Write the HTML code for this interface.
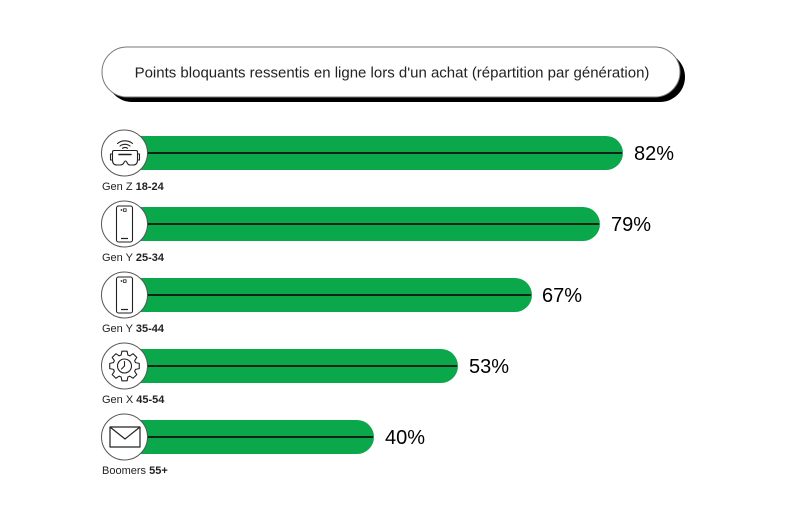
<!DOCTYPE html>
<html>
<head>
<meta charset="utf-8">
<style>
  html,body{margin:0;padding:0;background:#fff;}
  svg{display:block;}
  text{font-family:"Liberation Sans",Arial,sans-serif;}
</style>
</head>
<body>
<svg width="794" height="509" viewBox="0 0 794 509" xmlns="http://www.w3.org/2000/svg">
  <rect x="0" y="0" width="794" height="509" fill="#fff"/>

  <!-- Title pill -->
  <rect x="107" y="52" width="578" height="50" rx="25" ry="25" fill="#000"/>
  <rect x="102" y="47" width="578" height="50" rx="25" ry="25" fill="#fff" stroke="#777" stroke-width="1"/>
  <text x="392" y="77.5" font-size="15" fill="#222" text-anchor="middle">Points bloquants ressentis en ligne lors d'un achat (répartition par génération)</text>

  <!-- Row 1: 82% -->
  <path d="M124 136 H606 A17 17 0 0 1 606 170 H124 Z" fill="#0aa84a"/>
  <line x1="147" y1="153" x2="622" y2="153" stroke="#111" stroke-width="1.8"/>
  <text x="634" y="160" font-size="20" fill="#000">82%</text>

  <!-- Row 2: 79% -->
  <path d="M124 207 H583 A17 17 0 0 1 583 241 H124 Z" fill="#0aa84a"/>
  <line x1="147" y1="224" x2="599" y2="224" stroke="#111" stroke-width="1.8"/>
  <text x="611" y="231" font-size="20" fill="#000">79%</text>

  <!-- Row 3: 67% -->
  <path d="M124 278 H515 A17 17 0 0 1 515 312 H124 Z" fill="#0aa84a"/>
  <line x1="147" y1="295" x2="531" y2="295" stroke="#111" stroke-width="1.8"/>
  <text x="542" y="302" font-size="20" fill="#000">67%</text>

  <!-- Row 4: 53% -->
  <path d="M124 349 H441 A17 17 0 0 1 441 383 H124 Z" fill="#0aa84a"/>
  <line x1="147" y1="366" x2="457" y2="366" stroke="#111" stroke-width="1.8"/>
  <text x="469" y="373" font-size="20" fill="#000">53%</text>

  <!-- Row 5: 40% -->
  <path d="M124 420 H357 A17 17 0 0 1 357 454 H124 Z" fill="#0aa84a"/>
  <line x1="147" y1="437" x2="373" y2="437" stroke="#111" stroke-width="1.8"/>
  <text x="385" y="444" font-size="20" fill="#000">40%</text>

  <!-- Circles -->
  <g fill="#fff" stroke="#555" stroke-width="1">
    <circle cx="124.5" cy="153" r="23"/>
    <circle cx="124.5" cy="224" r="23"/>
    <circle cx="124.5" cy="295" r="23"/>
    <circle cx="124.5" cy="366" r="23"/>
    <circle cx="124.5" cy="437" r="23"/>
  </g>

  <!-- Icon 1: VR goggles with wifi -->
  <g fill="none" stroke="#222" stroke-width="1.1" stroke-linecap="round" stroke-linejoin="round">
    <path d="M117.5 143.5 A10 8 0 0 1 132.5 143.5"/>
    <path d="M120 146 A7 5.5 0 0 1 130 146"/>
    <path d="M122.5 148.3 A3.5 3 0 0 1 127.5 148.3"/>
    <path d="M114 150.5 H136 Q137.5 150.5 137.5 152 V160 Q137.5 165 133 165 H130 Q128 165 127 162.5 Q125.5 159.5 124 162.5 Q123 165 120 165 H117 Q112.5 165 112.5 160 V152 Q112.5 150.5 114 150.5 Z"/>
    <line x1="119" y1="154.5" x2="131" y2="154.5" stroke-width="1.6"/>
    <path d="M112.5 154 H110.5 V160 H112.5"/>
    <path d="M137.5 154 H139.5 V160 H137.5"/>
  </g>

  <!-- Icon 2: phone -->
  <g fill="none" stroke="#222" stroke-width="1.1">
    <rect x="116.5" y="206" width="16" height="36" rx="2"/>
    <circle cx="121.5" cy="210" r="0.9" fill="#222" stroke="none"/>
    <rect x="123.5" y="208.8" width="2.6" height="2.6" stroke-width="0.8"/>
    <line x1="121" y1="238.5" x2="128" y2="238.5" stroke-width="1.2"/>
  </g>

  <!-- Icon 3: phone -->
  <g fill="none" stroke="#222" stroke-width="1.1">
    <rect x="116.5" y="277" width="16" height="36" rx="2"/>
    <circle cx="121.5" cy="281" r="0.9" fill="#222" stroke="none"/>
    <rect x="123.5" y="279.8" width="2.6" height="2.6" stroke-width="0.8"/>
    <line x1="121" y1="309.5" x2="128" y2="309.5" stroke-width="1.2"/>
  </g>

  <!-- Icon 4: gear with clock -->
  <g transform="translate(124.5,366)" fill="none" stroke="#222" stroke-width="1.1" stroke-linejoin="round">
    <polygon points="10.99,-3.36 14.77,-2.61 14.77,2.61 10.99,3.36 10.15,5.40 12.29,8.60 8.60,12.29 5.40,10.15 3.36,10.99 2.61,14.77 -2.61,14.77 -3.36,10.99 -5.40,10.15 -8.60,12.29 -12.29,8.60 -10.15,5.40 -10.99,3.36 -14.77,2.61 -14.77,-2.61 -10.99,-3.36 -10.15,-5.40 -12.29,-8.60 -8.60,-12.29 -5.40,-10.15 -3.36,-10.99 -2.61,-14.77 2.61,-14.77 3.36,-10.99 5.40,-10.15 8.60,-12.29 12.29,-8.60 10.15,-5.40"/>
    <circle cx="0" cy="0" r="7"/>
    <polyline points="0,-4.5 0,0 -3,3" stroke-linecap="round"/>
  </g>

  <!-- Icon 5: envelope -->
  <g fill="none" stroke="#222" stroke-width="1.2" stroke-linejoin="round">
    <rect x="110" y="427" width="30" height="20"/>
    <polyline points="110,427 125,439 140,427"/>
  </g>

  <!-- Labels -->
  <g font-size="11" fill="#222">
    <text x="102" y="190">Gen Z <tspan font-weight="bold">18-24</tspan></text>
    <text x="102" y="261">Gen Y <tspan font-weight="bold">25-34</tspan></text>
    <text x="102" y="332">Gen Y <tspan font-weight="bold">35-44</tspan></text>
    <text x="102" y="403">Gen X <tspan font-weight="bold">45-54</tspan></text>
    <text x="102" y="474">Boomers <tspan font-weight="bold">55+</tspan></text>
  </g>
</svg>
</body>
</html>
